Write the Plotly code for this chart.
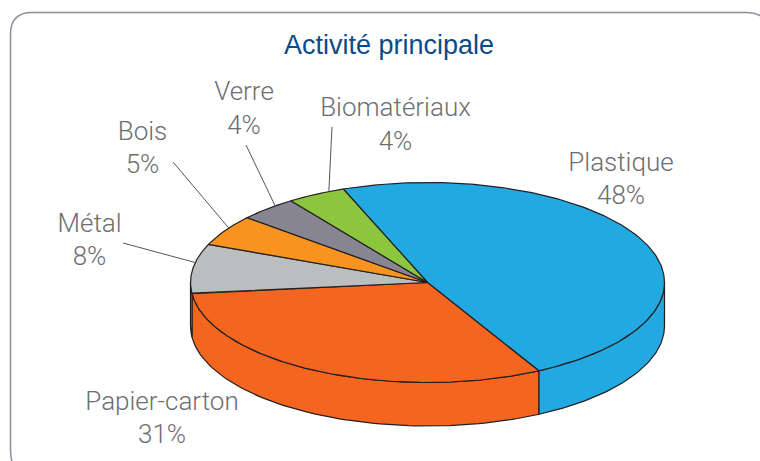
import numpy as np
import plotly.graph_objects as go

# Data, clockwise from the top of the pie
categories = ["Plastique", "Papier-carton", "Métal", "Bois", "Verre", "Biomatériaux"]
values = [48, 31, 8, 5, 4, 4]
title_text = "Activité principale"

# Styles
colors = ["#23A9E1", "#F46520", "#BBBDBF", "#F7931E", "#868591", "#8CC63F"]
EDGE = "#231F20"
TEXT = "#6D6E71"
TITLE = "#0B4A8C"
FONT = "Liberation Sans"
LABEL_FONT = "Roboto"

# Layout, in pixels of the 760x461 page
W, H = 760, 461
CX, CY, RX, RY, DEPTH = 427.5, 282.5, 237, 100, 43.5
START = 110.8  # angle of the first slice's leading edge, degrees
label_x = [621, 162, 89.5, 142.5, 244, 395.5]
label_y = [181, 420, 242, 150, 110.5, 126.5]
leader_from = [None, None, (123, 243), (173, 162), (246, 145), (332, 127)]
leader_rim_angle = [None, None, 168.5, 147, 130, 114.6]


def rim(t_deg, drop=0.0):
    t = np.radians(t_deg)
    return CX + RX * np.cos(t), CY - RY * np.sin(t) + drop


fig = go.Figure()


def poly(x, y, fill):
    fig.add_trace(go.Scatter(
        x=list(x), y=list(y), mode="lines",
        fill="toself" if fill else None, fillcolor=fill,
        line=dict(color=EDGE, width=1.2), hoverinfo="skip", showlegend=False,
    ))


# Slice angles derive from the values (clockwise)
total = sum(values)
ends = START - np.cumsum(values) / total * 360
starts = np.concatenate([[START], ends[:-1]])

# Outer walls: only the part of each slice facing the viewer (angles -180..0)
for a, b, c in zip(starts, ends, colors):
    for shift in (0, -360):
        hi, lo = min(a + shift, 0), max(b + shift, -180)
        if hi > lo:
            t = np.linspace(hi, lo, 80)
            xt, yt = rim(t)
            xb, yb = rim(t[::-1], DEPTH)
            poly(np.r_[xt, xb, xt[0]], np.r_[yt, yb, yt[0]], c)

# Top faces
for a, b, c in zip(starts, ends, colors):
    t = np.linspace(a, b, 200)
    xt, yt = rim(t)
    poly(np.r_[CX, xt, CX], np.r_[CY, yt, CY], c)

# Leader lines
for start, ang in zip(leader_from, leader_rim_angle):
    if start is not None:
        ex, ey = rim(ang)
        fig.add_trace(go.Scatter(
            x=[start[0], ex], y=[start[1], ey], mode="lines",
            line=dict(color="#55565A", width=1), hoverinfo="skip", showlegend=False,
        ))

# Category labels
fig.add_trace(go.Scatter(
    x=label_x, y=label_y, mode="text",
    text=[f"{n}<br>{v}%" for n, v in zip(categories, values)],
    textposition="middle center",
    textfont=dict(family=LABEL_FONT, size=26, color=TEXT, weight=300),
    hoverinfo="skip", showlegend=False,
))

fig.add_annotation(
    x=389, y=45, xref="x", yref="y", text=title_text, showarrow=False,
    font=dict(family=FONT, size=27, color=TITLE),
)

# Rounded panel frame, running off the right and bottom of the page
fig.add_shape(
    type="path", xref="x", yref="y", layer="below",
    path="M 16 475 Q 10.5 462 10.5 448 L 10.5 34 Q 10.5 12.5 32 12.5 "
         "L 746 12.5 Q 768 12.5 772 34",
    line=dict(color="#8E8E9A", width=1.5),
)

fig.update_layout(
    width=W, height=H, margin=dict(l=0, r=0, t=0, b=0),
    paper_bgcolor="white", plot_bgcolor="white", showlegend=False,
    xaxis=dict(range=[0, W], visible=False, fixedrange=True),
    yaxis=dict(range=[H, 0], visible=False, fixedrange=True),
)
fig.write_html(
    "out.html",
    config={"displayModeBar": False},
    post_script="document.body.style.margin='0';document.documentElement.style.overflow='hidden';",
)
